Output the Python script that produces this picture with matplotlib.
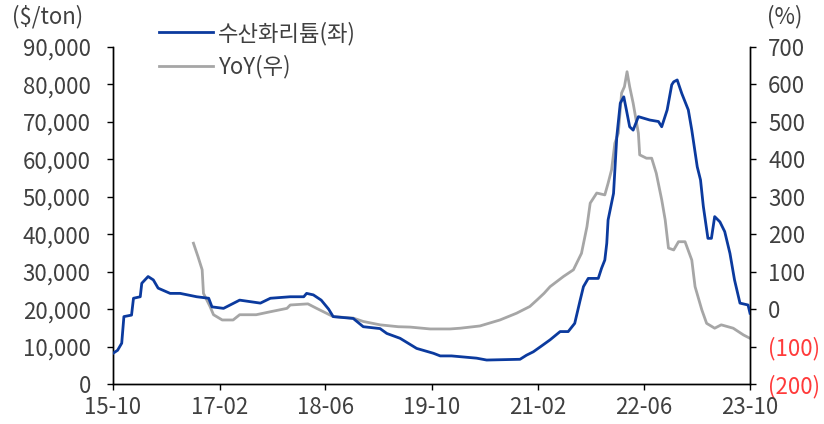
import matplotlib
matplotlib.use("Agg")
import matplotlib.pyplot as plt
from matplotlib.lines import Line2D
import pandas as pd

plt.rcParams['font.family'] = ['Noto Sans CJK KR', 'DejaVu Sans']

# Lithium hydroxide price ($/ton), left axis
price_dates = [
    '2015-10-01', '2015-10-22', '2015-11-10', '2015-11-20', '2015-12-25', '2016-01-03',
    '2016-02-03', '2016-02-10', '2016-03-10', '2016-04-03', '2016-04-25', '2016-06-19',
    '2016-08-04', '2016-10-19', '2016-12-13', '2016-12-28', '2017-02-19', '2017-05-04',
    '2017-08-07', '2017-09-22', '2017-12-22', '2018-02-22', '2018-03-07', '2018-04-07',
    '2018-05-13', '2018-06-16', '2018-07-07', '2018-10-07', '2018-11-22', '2019-02-07',
    '2019-03-10', '2019-05-10', '2019-07-25', '2019-10-10', '2019-11-10', '2020-01-01',
    '2020-04-25', '2020-06-10', '2020-11-10', '2020-12-10', '2021-01-10', '2021-02-13',
    '2021-03-28', '2021-05-13', '2021-06-19', '2021-07-19', '2021-08-13', '2021-08-28',
    '2021-09-19', '2021-11-04', '2021-11-19', '2021-12-04', '2021-12-13', '2021-12-19',
    '2022-01-13', '2022-01-28', '2022-02-13', '2022-03-01', '2022-03-13', '2022-03-28',
    '2022-04-13', '2022-05-07', '2022-06-28', '2022-08-07', '2022-08-22', '2022-09-16',
    '2022-10-07', '2022-10-16', '2022-11-01', '2022-11-22', '2022-12-22', '2023-01-07',
    '2023-02-01', '2023-02-16', '2023-03-01', '2023-03-22', '2023-04-07', '2023-04-22',
    '2023-05-16', '2023-06-07', '2023-07-01', '2023-07-22', '2023-08-16', '2023-09-22',
    '2023-10-01',
]
price_values = [
    8200, 9000, 10900, 18000, 18400, 22900,
    23300, 26900, 28700, 27800, 25600, 24200,
    24200, 23300, 22900, 20600, 20200, 22400,
    21600, 22900, 23300, 23300, 24200, 23800,
    22400, 20000, 18000, 17500, 15300, 14800,
    13500, 12200, 9500, 8200, 7500, 7500,
    6900, 6400, 6600, 7700, 8600, 10000,
    11800, 14000, 14000, 16200, 22400, 26000,
    28200, 28200, 30900, 33100, 37600, 43800,
    50900, 66100, 75000, 76700, 73200, 68700,
    67800, 71400, 70500, 70100, 68700, 73200,
    79900, 80700, 81200, 77600, 73200, 67800,
    58000, 54500, 47400, 38900, 38900, 44700,
    43300, 40700, 34900, 27800, 21600, 21100,
    18900,
]

# YoY (%), right axis
yoy_dates = [
    '2016-10-04', '2016-10-25', '2016-11-13', '2016-11-19', '2016-12-19', '2017-01-04',
    '2017-02-13', '2017-04-04', '2017-05-04', '2017-07-19', '2017-09-22', '2017-12-07',
    '2017-12-22', '2018-03-13', '2018-04-22', '2018-07-07', '2018-10-07', '2018-11-22',
    '2019-02-07', '2019-05-01', '2019-06-25', '2019-09-25', '2019-12-25', '2020-02-10',
    '2020-05-10', '2020-08-10', '2020-10-25', '2020-12-25', '2021-01-28', '2021-02-28',
    '2021-03-28', '2021-05-28', '2021-07-13', '2021-08-19', '2021-09-13', '2021-09-28',
    '2021-10-28', '2021-12-04', '2021-12-19', '2022-01-04', '2022-01-19', '2022-02-04',
    '2022-02-19', '2022-03-04', '2022-03-16', '2022-03-28', '2022-04-13', '2022-05-07',
    '2022-05-13', '2022-06-13', '2022-07-07', '2022-07-28', '2022-08-22', '2022-09-07',
    '2022-09-22', '2022-10-16', '2022-11-07', '2022-12-07', '2023-01-07', '2023-01-22',
    '2023-02-22', '2023-03-16', '2023-04-22', '2023-05-22', '2023-07-16', '2023-09-01',
    '2023-10-01',
]
yoy_values = [
    176, 140, 105, 42, 7, -15,
    -29, -29, -15, -15, -7, 2,
    11, 14, 2, -20, -24, -33,
    -42, -47, -48, -53, -53, -51,
    -45, -29, -11, 7, 25, 42,
    60, 87, 105, 149, 220, 283,
    310, 305, 336, 372, 443, 470,
    577, 594, 634, 594, 550, 470,
    412, 403, 403, 363, 292, 238,
    163, 158, 180, 180, 131, 60,
    -2, -38, -51, -42, -51, -69,
    -78,
]

tick_dates = ['2015-10-01', '2017-02-01', '2018-06-01', '2019-10-01',
              '2021-02-01', '2022-06-01', '2023-10-01']
tick_labels = ['15-10', '17-02', '18-06', '19-10', '21-02', '22-06', '23-10']

left_ticks = [0, 10000, 20000, 30000, 40000, 50000, 60000, 70000, 80000, 90000]
right_ticks = [-200, -100, 0, 100, 200, 300, 400, 500, 600, 700]

labels = ['수산화리튬(좌)', 'YoY(우)']

BLUE = '#0B3A9E'
GRAY = '#A6A6A6'
TXT = '#404040'
RED = '#FF3B3B'
FS = 16

fig = plt.figure(figsize=(8.24, 4.24), dpi=100)
ax = fig.add_axes([113/824, 1 - 384/424, (750 - 113)/824, (384 - 47)/424])
ax2 = ax.twinx()

pd_price = pd.to_datetime(price_dates)
pd_yoy = pd.to_datetime(yoy_dates)

ax2.plot(pd_yoy, yoy_values, color=GRAY, lw=2.0, zorder=2)
ax.plot(pd_price, price_values, color=BLUE, lw=2.0, zorder=3)
ax.set_zorder(ax2.get_zorder() + 1)
ax.patch.set_visible(False)

ax.set_xlim(pd.Timestamp('2015-10-01'), pd.Timestamp('2023-10-01'))
ax.set_ylim(0, 90000)
ax2.set_ylim(-200, 700)

ax.set_xticks(pd.to_datetime(tick_dates))
ax.set_xticklabels(tick_labels)
ax.set_yticks(left_ticks)
ax.set_yticklabels([f'{v:,}' for v in left_ticks])
ax2.set_yticks(right_ticks)
ax2.set_yticklabels([f'({-v})' if v < 0 else f'{v}' for v in right_ticks])

for a in (ax, ax2):
    a.spines['top'].set_visible(False)
    for s in ('left', 'right', 'bottom'):
        a.spines[s].set_color('black')
        a.spines[s].set_linewidth(1.0)
    a.tick_params(axis='both', direction='out', length=4, width=1.0,
                  labelsize=FS, labelcolor=TXT, color='black')
ax.tick_params(axis='y', pad=12)
ax.tick_params(axis='x', pad=5)
ax2.tick_params(axis='y', pad=9)

for lbl, v in zip(ax2.get_yticklabels(), right_ticks):
    lbl.set_color(RED if v < 0 else TXT)

fig.text(12/824, 1 - 17/424, '($/ton)', fontsize=FS, color=TXT, ha='left', va='center')
fig.text(802/824, 1 - 17/424, '(%)', fontsize=FS, color=TXT, ha='right', va='center')

handles = [Line2D([], [], color=BLUE, lw=2.0), Line2D([], [], color=GRAY, lw=2.0)]
fig.legend(handles, labels, loc='upper left', bbox_to_anchor=(155/824, 1 - 17/424),
           frameon=False, fontsize=FS, handlelength=2.4, handletextpad=0.25,
           labelspacing=0.45, labelcolor=TXT, borderaxespad=0, borderpad=0.2)

fig.savefig('out.png', dpi=100)
